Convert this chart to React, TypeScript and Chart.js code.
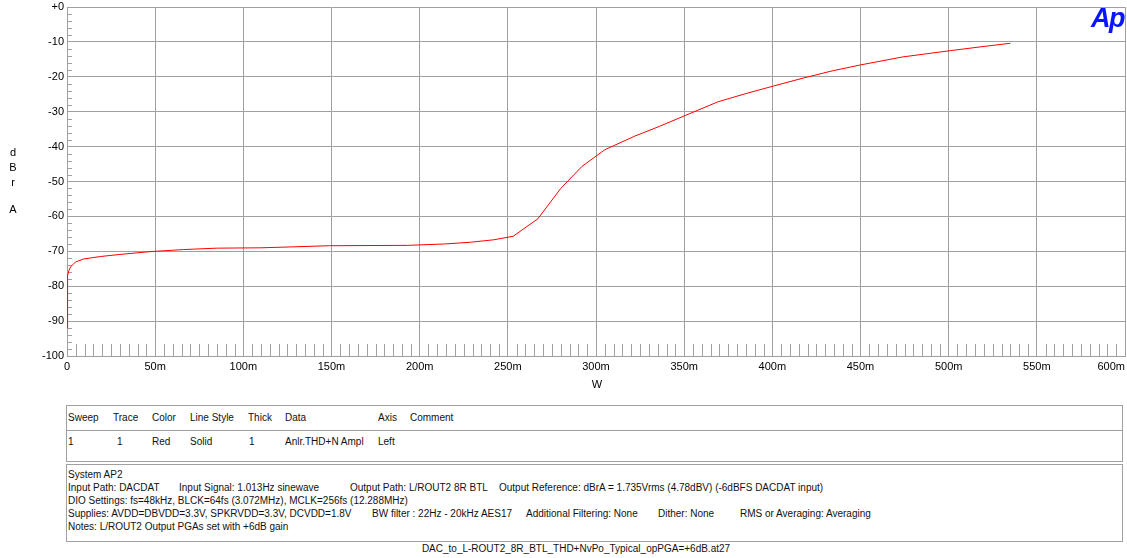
import React, { useEffect, useRef } from 'react';
import { Chart, registerables } from 'chart.js';

Chart.register(...registerables);

// Output power (W) and THD+N (dBr A)
const powerW = [
  0.0001, 0.0002, 0.0003, 0.0005, 0.001, 0.002, 0.0047, 0.0094, 0.0189, 0.03,
  0.047, 0.066, 0.085, 0.11, 0.13, 0.149, 0.193, 0.214, 0.229, 0.242,
  0.253, 0.267, 0.28, 0.292, 0.305, 0.322, 0.336, 0.351, 0.369, 0.385,
  0.401, 0.418, 0.434, 0.45, 0.474, 0.501, 0.52, 0.535,
];
const thdNdB = [
  -92, -86, -80, -77, -75.6, -74.5, -73.1, -72.2, -71.5, -70.9,
  -70.1, -69.5, -69.1, -69.0, -68.7, -68.4, -68.3, -67.9, -67.4, -66.7,
  -65.7, -60.7, -52.0, -45.7, -40.9, -37.0, -34.2, -31.0, -27.2, -24.8,
  -22.6, -20.3, -18.3, -16.6, -14.3, -12.5, -11.3, -10.4,
];

const X_MIN = 0;
const X_MAX = 0.6;
const X_STEP = 0.05;
const X_MINOR_STEP = 0.005;
const Y_MIN = -100;
const Y_MAX = 0;
const Y_STEP = 10;
const Y_MINOR_STEP = 2;

const tableHeader = ['Sweep', 'Trace', 'Color', 'Line Style', 'Thick', 'Data', 'Axis', 'Comment'];
const tableRow = ['1', '1', 'Red', 'Solid', '1', 'Anlr.THD+N Ampl', 'Left'];
const headerX = [68, 113, 152, 190, 248, 285, 378, 410];
const rowX = [68, 117, 152, 190, 249, 285, 378];

const notesLines: { x: number; t: string }[][] = [
  [{ x: 68, t: 'System AP2' }],
  [
    { x: 68, t: 'Input Path: DACDAT' },
    { x: 179, t: 'Input Signal: 1.013Hz sinewave' },
    { x: 350, t: 'Output Path: L/ROUT2 8R BTL' },
    { x: 499, t: 'Output Reference: dBrA = 1.735Vrms (4.78dBV) (-6dBFS DACDAT input)' },
  ],
  [{ x: 68, t: 'DIO Settings: fs=48kHz, BLCK=64fs (3.072MHz), MCLK=256fs (12.288MHz)' }],
  [
    { x: 68, t: 'Supplies: AVDD=DBVDD=3.3V, SPKRVDD=3.3V, DCVDD=1.8V' },
    { x: 372, t: 'BW filter : 22Hz - 20kHz AES17' },
    { x: 526, t: 'Additional Filtering: None' },
    { x: 658, t: 'Dither: None' },
    { x: 740, t: 'RMS or Averaging: Averaging' },
  ],
  [{ x: 68, t: 'Notes: L/ROUT2 Output PGAs set with +6dB gain' }],
];

const footer = 'DAC_to_L-ROUT2_8R_BTL_THD+NvPo_Typical_opPGA=+6dB.at27';

const FONT = '"Liberation Sans", Arial, Helvetica, sans-serif';
const GRID = '#a0a0a0';

const fmtX = (v: number) => {
  const m = Math.round(v * 1000);
  return m === 0 ? '0' : m + 'm';
};

const minorTicks = {
  id: 'minorTicks',
  beforeDatasetsDraw(chart: any) {
    const { ctx, chartArea, scales } = chart;
    const x = scales.x;
    const y = scales.y;
    ctx.save();
    ctx.strokeStyle = GRID;
    ctx.lineWidth = 1;
    ctx.beginPath();
    const nY = Math.round((Y_MAX - Y_MIN) / Y_MINOR_STEP);
    for (let i = 1; i < nY; i++) {
      const v = Y_MIN + i * Y_MINOR_STEP;
      if (Math.abs(v % Y_STEP) < 1e-9) continue;
      const py = Math.round(y.getPixelForValue(v)) + 0.5;
      ctx.moveTo(chartArea.left, py);
      ctx.lineTo(chartArea.left + 5, py);
    }
    const nX = Math.round((X_MAX - X_MIN) / X_MINOR_STEP);
    const per = Math.round(X_STEP / X_MINOR_STEP);
    for (let i = 1; i < nX; i++) {
      if (i % per === 0) continue;
      const v = X_MIN + i * X_MINOR_STEP;
      const px = Math.round(x.getPixelForValue(v)) + 0.5;
      ctx.moveTo(px, chartArea.bottom);
      ctx.lineTo(px, chartArea.bottom - 12);
    }
    ctx.stroke();
    ctx.restore();
  },
  afterDraw(chart: any) {
    const { ctx, chartArea, scales } = chart;
    const x = scales.x;
    ctx.save();
    ctx.fillStyle = '#000';
    ctx.font = '11px ' + FONT;
    ctx.textBaseline = 'top';
    const ticks = x.ticks;
    ticks.forEach((t: any, i: number) => {
      const px = x.getPixelForValue(t.value);
      ctx.textAlign = i === ticks.length - 1 ? 'right' : 'center';
      ctx.fillText(fmtX(t.value), px, chartArea.bottom + 5);
    });
    ctx.restore();
  },
};

function ChartCanvas() {
  const ref = useRef<HTMLCanvasElement>(null);
  useEffect(() => {
    if (!ref.current) return;
    const data = powerW.map((p, i) => ({ x: p, y: thdNdB[i] }));
    const chart = new Chart(ref.current, {
      type: 'line',
      data: {
        datasets: [
          {
            data,
            borderColor: '#ff0000',
            borderWidth: 1,
            pointRadius: 0,
            tension: 0,
            fill: false,
          },
        ],
      },
      options: {
        animation: false,
        responsive: false,
        events: [],
        layout: { padding: { left: 0, right: 2, top: 7, bottom: 0 } },
        plugins: { legend: { display: false }, tooltip: { enabled: false }, title: { display: false } },
        scales: {
          x: {
            type: 'linear',
            min: X_MIN,
            max: X_MAX,
            ticks: { stepSize: X_STEP, display: false, autoSkip: false, maxRotation: 0 },
            grid: { color: GRID, lineWidth: 1, drawTicks: false },
            border: { display: true, color: GRID },
            afterFit: (s: any) => {
              s.height = 39;
              s.paddingLeft = 0;
              s.paddingRight = 0;
            },
          },
          y: {
            type: 'linear',
            min: Y_MIN,
            max: Y_MAX,
            ticks: {
              stepSize: Y_STEP,
              color: '#000',
              padding: 3,
              font: { family: FONT, size: 11 },
              callback: (v: any) => (v === 0 ? '+0' : String(v)),
            },
            grid: { color: GRID, lineWidth: 1, drawTicks: false },
            border: { display: true, color: GRID },
            afterFit: (s: any) => {
              s.width = 67;
              s.paddingTop = 0;
              s.paddingBottom = 0;
            },
          },
        },
      },
      plugins: [minorTicks],
    } as any);
    return () => chart.destroy();
  }, []);
  return (
    <canvas
      ref={ref}
      width={1127}
      height={395}
      style={{ position: 'absolute', left: 0, top: 0, width: 1127, height: 395 }}
    />
  );
}

const txt = (x: number, y: number, t: string, extra: React.CSSProperties = {}) => (
  <div
    key={x + '-' + y + '-' + t}
    style={{
      position: 'absolute',
      left: x,
      top: y,
      fontSize: 10,
      lineHeight: '12px',
      whiteSpace: 'pre',
      color: '#111',
      ...extra,
    }}
  >
    {t}
  </div>
);

export default function App() {
  const yTitle = [
    { c: 'd', y: 152 },
    { c: 'B', y: 167 },
    { c: 'r', y: 182 },
    { c: 'A', y: 209 },
  ];
  return (
    <div
      style={{
        position: 'absolute',
        left: 0,
        top: 0,
        width: 1127,
        height: 558,
        background: '#fff',
        fontFamily: FONT,
        overflow: 'hidden',
      }}
    >
      <ChartCanvas />
      {yTitle.map((l) => (
        <div
          key={l.c}
          style={{
            position: 'absolute',
            left: 3,
            width: 20,
            top: l.y - 7,
            height: 14,
            lineHeight: '14px',
            textAlign: 'center',
            fontSize: 11,
            color: '#000',
          }}
        >
          {l.c}
        </div>
      ))}
      <div
        style={{
          position: 'absolute',
          left: 577,
          width: 40,
          top: 377,
          lineHeight: '14px',
          textAlign: 'center',
          fontSize: 11,
          color: '#000',
        }}
      >
        W
      </div>
      <div
        style={{
          position: 'absolute',
          left: 1091,
          top: 2,
          fontSize: 27,
          lineHeight: '32px',
          fontWeight: 'bold',
          fontStyle: 'italic',
          color: '#0a14ff',
          letterSpacing: -1.5,
        }}
      >
        Ap
      </div>

      <div
        style={{
          position: 'absolute',
          left: 66,
          top: 405,
          width: 1055,
          height: 55,
          border: '1px solid ' + GRID,
        }}
      />
      <div style={{ position: 'absolute', left: 66, top: 430, width: 1057, height: 1, background: GRID }} />
      {tableHeader.map((h, i) => txt(headerX[i], 412, h))}
      {tableRow.map((h, i) => txt(rowX[i], 436, h))}

      <div
        style={{
          position: 'absolute',
          left: 66,
          top: 464,
          width: 1055,
          height: 76,
          border: '1px solid ' + GRID,
        }}
      />
      {notesLines.map((line, li) => line.map((s) => txt(s.x, 469 + li * 13, s.t)))}

      <div
        style={{
          position: 'absolute',
          left: 376,
          width: 400,
          top: 543,
          textAlign: 'center',
          fontSize: 10,
          lineHeight: '12px',
          color: '#111',
        }}
      >
        {footer}
      </div>
    </div>
  );
}
